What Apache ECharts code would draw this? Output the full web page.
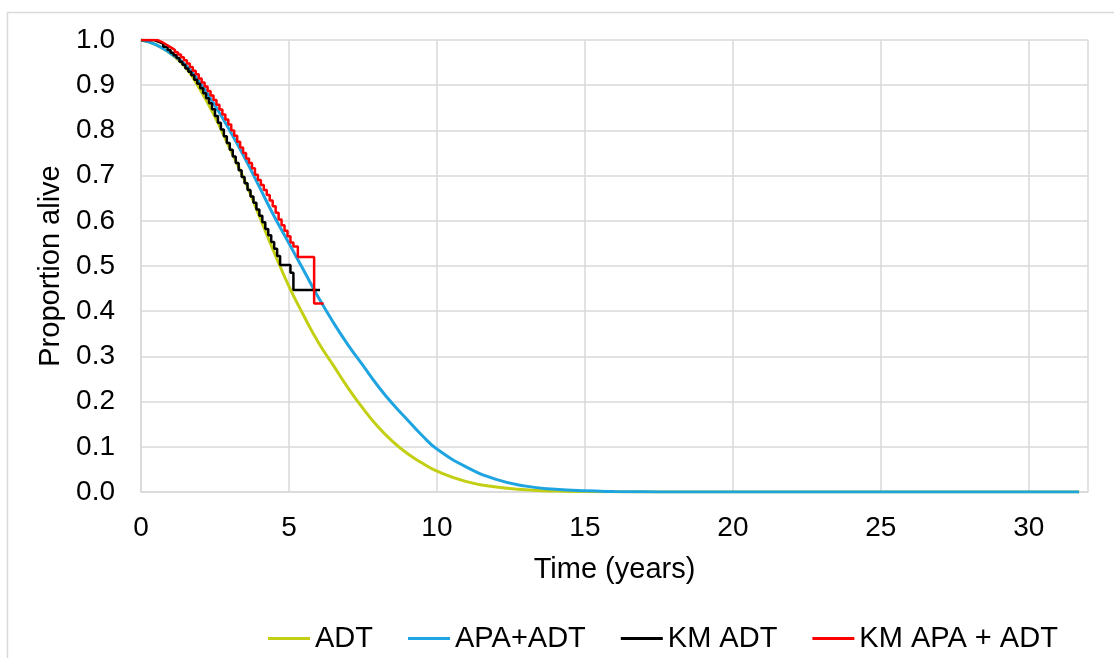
<!DOCTYPE html>
<html>
<head>
<meta charset="utf-8">
<script src="https://cdn.jsdelivr.net/npm/echarts@6/dist/echarts.min.js"></script>
<style>
html,body{margin:0;padding:0;background:#fff;}
#c{width:1114px;height:658px;}
</style>
</head>
<body>
<div id="c"></div>
<script>
// ---- Data ----
const seriesNames = ["ADT", "APA+ADT", "KM ADT", "KM APA + ADT"];

const adtTime = [0,0.5,1,1.5,2,2.5,3,3.5,4,4.5,5,5.5,6,6.5,7,7.5,8,8.5,9,9.5,10,11,12,13,14,15,16,18,20,25,31.7];
const adtVal  = [1.0,0.99,0.97,0.94,0.89,0.83,0.76,0.69,0.61,0.53,0.455,0.39,0.33,0.28,0.23,0.185,0.145,0.112,0.085,0.064,0.046,0.023,0.011,0.005,0.002,0.001,0.0003,0,0,0,0];

const apaTime = [0,0.5,1,1.5,2,2.5,3,3.5,4,4.5,5,5.5,6,6.5,7,7.5,8,8.5,9,9.5,10,11,12,13,14,15,16,17,18,20,25,31.7];
const apaVal  = [1.0,0.99,0.97,0.945,0.905,0.855,0.80,0.74,0.675,0.61,0.55,0.49,0.43,0.375,0.325,0.28,0.235,0.195,0.16,0.125,0.095,0.055,0.028,0.013,0.006,0.0025,0.001,0.0003,0,0,0,0];

const kmAdtTime = [0,0.3,0.45,0.6,0.75,0.9,1.0,1.1,1.2,1.3,1.4,1.5,1.6,1.7,1.8,1.9,2.0,2.1,2.2,2.3,2.4,2.5,2.6,2.7,2.8,2.9,3.0,3.1,3.2,3.3,3.4,3.5,3.6,3.7,3.8,3.9,4.0,4.1,4.2,4.3,4.4,4.5,4.6,4.7,5.05,5.15,6.05];
const kmAdtVal  = [1.0,1.0,0.996,0.992,0.985,0.978,0.972,0.966,0.96,0.952,0.945,0.937,0.93,0.922,0.912,0.903,0.893,0.882,0.871,0.86,0.847,0.832,0.817,0.802,0.787,0.772,0.757,0.742,0.728,0.712,0.697,0.683,0.668,0.654,0.64,0.625,0.611,0.597,0.582,0.568,0.553,0.538,0.522,0.502,0.485,0.447,0.447];

const kmApaTime = [0,0.45,0.55,0.65,0.75,0.85,0.95,1.05,1.15,1.25,1.35,1.45,1.55,1.65,1.75,1.85,1.95,2.05,2.15,2.25,2.35,2.45,2.55,2.65,2.75,2.85,2.95,3.05,3.15,3.25,3.35,3.45,3.55,3.65,3.75,3.85,3.95,4.05,4.15,4.25,4.35,4.45,4.55,4.65,4.75,4.85,4.95,5.05,5.15,5.3,5.85,6.17];
const kmApaVal  = [1.0,1.0,0.997,0.994,0.99,0.986,0.982,0.978,0.973,0.968,0.962,0.955,0.948,0.94,0.932,0.924,0.915,0.906,0.897,0.887,0.877,0.867,0.857,0.846,0.835,0.824,0.813,0.80,0.788,0.775,0.762,0.75,0.738,0.728,0.716,0.702,0.69,0.679,0.668,0.657,0.645,0.632,0.618,0.603,0.59,0.578,0.566,0.552,0.543,0.52,0.417,0.417];

const xTicks = [0,5,10,15,20,25,30];

// ---- Build chart ----
const zip = (t, v) => t.map((x, i) => [x, v[i]]);
const colors = ["#c3cf12", "#1ea4e0", "#000000", "#ff0000"];
const font = "Liberation Sans, Arial, sans-serif";
const gridColor = "#d9d9d9";

const chart = echarts.init(document.getElementById('c'), null, {renderer: 'canvas'});
chart.setOption({
  animation: false,
  backgroundColor: '#fff',
  color: colors,
  graphic: [{
    type: 'rect', silent: true, z: -10,
    shape: {x: 7.5, y: 12.5, width: 1200, height: 800},
    style: {fill: 'none', stroke: '#d9d9d9', lineWidth: 1.5}
  }],
  grid: {left: 141, right: 26, top: 40, bottom: 166, containLabel: false},
  legend: {
    left: 263, top: 619,
    itemWidth: 42, itemHeight: 3, itemGap: 35,
    icon: 'rect',
    textStyle: {fontFamily: font, fontSize: 29, color: '#000'},
    data: seriesNames
  },
  xAxis: {
    type: 'value', min: 0, max: 32, interval: 5,
    name: 'Time (years)', nameLocation: 'middle', nameGap: 63,
    nameTextStyle: {fontFamily: font, fontSize: 29, color: '#000'},
    axisLine: {show: true, lineStyle: {color: gridColor, width: 1.5}},
    axisTick: {show: false},
    axisLabel: {fontFamily: font, fontSize: 28, color: '#000', margin: 22, showMaxLabel: false,
      formatter: v => xTicks.includes(v) ? String(v) : ''},
    splitLine: {show: true, lineStyle: {color: gridColor, width: 1.5}}
  },
  yAxis: {
    type: 'value', min: 0, max: 1, interval: 0.1,
    name: 'Proportion alive', nameLocation: 'middle', nameGap: 71,
    nameTextStyle: {fontFamily: font, fontSize: 29, color: '#000'},
    axisLine: {show: true, lineStyle: {color: gridColor, width: 1.5}},
    axisTick: {show: false},
    axisLabel: {fontFamily: font, fontSize: 28, color: '#000', margin: 26,
      formatter: v => v.toFixed(1)},
    splitLine: {show: true, lineStyle: {color: gridColor, width: 1.5}}
  },
  series: [
    {name: seriesNames[0], type: 'line', data: zip(adtTime, adtVal), smooth: 0.5,
     showSymbol: false, lineStyle: {width: 3, color: colors[0]}},
    {name: seriesNames[1], type: 'line', data: zip(apaTime, apaVal), smooth: 0.5,
     showSymbol: false, lineStyle: {width: 3, color: colors[1]}},
    {name: seriesNames[2], type: 'line', data: zip(kmAdtTime, kmAdtVal), step: 'end',
     showSymbol: false, lineStyle: {width: 2.5, color: colors[2]}},
    {name: seriesNames[3], type: 'line', data: zip(kmApaTime, kmApaVal), step: 'end',
     showSymbol: false, lineStyle: {width: 2.5, color: colors[3]}}
  ]
});
</script>
</body>
</html>
